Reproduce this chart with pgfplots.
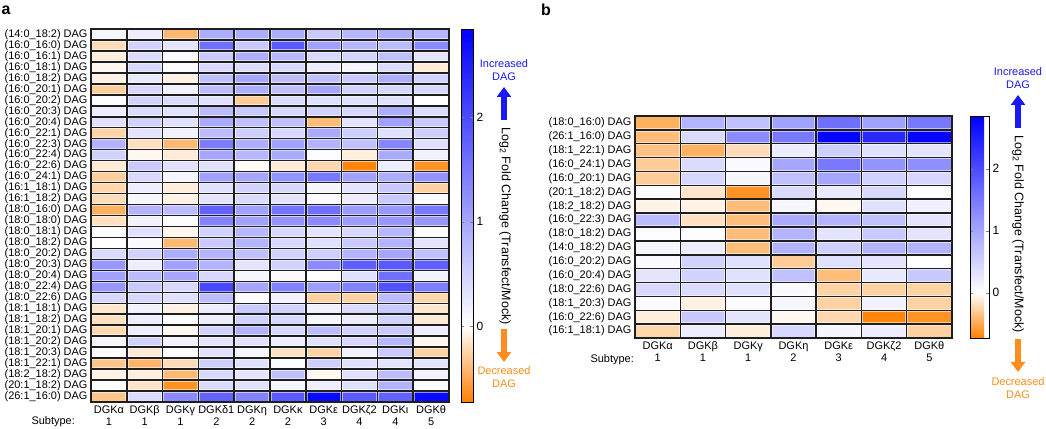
\documentclass[border=0pt]{standalone}
\usepackage{pgfplots}
\pgfplotsset{compat=1.18}
\usepackage{fontspec}
\setmainfont{Liberation Sans}
\usetikzlibrary{arrows.meta}
\definecolor{incblue}{RGB}{25,25,245}
\definecolor{decorange}{RGB}{255,140,30}
\definecolor{gridline}{RGB}{30,30,30}
\pgfplotsset{
  heat/.style={
    colormap={dag}{rgb255(0pt)=(255,128,0) rgb255(73pt)=(255,255,255) rgb255(358pt)=(0,0,255)},
    scale only axis, axis on top, y dir=reverse,
    point meta min=-0.73, point meta max=2.85,
    major tick length=0pt, minor tick length=0pt,
    axis line style={gridline, line width=1.5bp},
    tick label style={font=\fontsize{11}{12}\selectfont},
    xticklabel style={align=center},
    colorbar right,
  },
  cbar/.style={
    scale only axis, width=#1,
    at={(parent axis.north east)}, anchor=north west,
    ytick={0,1,2},
    yticklabel style={font=\fontsize{12}{12}\selectfont},
    /pgf/number format/assume math mode=true,
    major tick length=3bp,
    axis line style={black, line width=0.6bp},
  },
}
\begin{document}
\begin{tikzpicture}
\useasboundingbox (0,0) rectangle (1046bp,429bp);
% ---------------- panel a ----------------
\begin{axis}[heat, at={(91bp,400bp)}, anchor=north west, width=358bp, height=373bp,
  xmin=-0.5, xmax=9.5, ymin=-0.5, ymax=33.5,
  xtick={0,...,9},
  xticklabels={DGKα\\1, DGKβ\\1, DGKγ\\1, DGKδ1\\2, DGKη\\2, DGKκ\\2, DGKε\\3, DGKζ2\\4, DGKι\\4, DGKθ\\5},
  ytick={0,...,33},
  yticklabels={(14:0\_18:2) DAG,(16:0\_16:0) DAG,(16:0\_16:1) DAG,(16:0\_18:1) DAG,(16:0\_18:2) DAG,(16:0\_20:1) DAG,(16:0\_20:2) DAG,(16:0\_20:3) DAG,(16:0\_20:4) DAG,(16:0\_22:1) DAG,(16:0\_22:3) DAG,(16:0\_22:4) DAG,(16:0\_22:6) DAG,(16:0\_24:1) DAG,(16:1\_18:1) DAG,(16:1\_18:2) DAG,(18:0\_16:0) DAG,(18:0\_18:0) DAG,(18:0\_18:1) DAG,(18:0\_18:2) DAG,(18:0\_20:2) DAG,(18:0\_20:3) DAG,(18:0\_20:4) DAG,(18:0\_22:4) DAG,(18:0\_22:6) DAG,(18:1\_18:1) DAG,(18:1\_18:2) DAG,(18:1\_20:1) DAG,(18:1\_20:2) DAG,(18:1\_20:3) DAG,(18:1\_22:1) DAG,(18:2\_18:2) DAG,(20:1\_18:2) DAG,(26:1\_16:0) DAG},
  colorbar style={cbar=12bp, colorbar shift/.style={xshift=12bp}}]
\addplot[matrix plot*, mesh/cols=10, point meta=explicit] coordinates {
(0,0)[0.1] (1,0)[0.2] (2,0)[-0.4] (3,0)[0.9] (4,0)[0.9] (5,0)[0.9] (6,0)[0.6] (7,0)[0.8] (8,0)[0.9] (9,0)[0.8]
(0,1)[-0.2] (1,1)[0.5] (2,1)[0.3] (3,1)[1.6] (4,1)[0.6] (5,1)[1.85] (6,1)[1.05] (7,1)[0.8] (8,1)[0.75] (9,1)[1.3]
(0,2)[-0.1] (1,2)[0.4] (2,2)[0.05] (3,2)[0.6] (4,2)[0.9] (5,2)[0.8] (6,2)[0.45] (7,2)[0.5] (8,2)[0.7] (9,2)[0.3]
(0,3)[-0.05] (1,3)[0.45] (2,3)[0.03] (3,3)[0.45] (4,3)[0.4] (5,3)[0.45] (6,3)[0.2] (7,3)[0.1] (8,3)[0.4] (9,3)[-0.12]
(0,4)[-0.08] (1,4)[0.25] (2,4)[-0.08] (3,4)[0.7] (4,4)[1.0] (5,4)[0.75] (6,4)[0.7] (7,4)[0.6] (8,4)[0.9] (9,4)[0.5]
(0,5)[-0.28] (1,5)[0.45] (2,5)[0.15] (3,5)[0.75] (4,5)[0.9] (5,5)[0.7] (6,5)[1.0] (7,5)[0.5] (8,5)[0.45] (9,5)[0.45]
(0,6)[0.03] (1,6)[0.5] (2,6)[0.4] (3,6)[0.35] (4,6)[-0.3] (5,6)[0.4] (6,6)[0.35] (7,6)[0.35] (8,6)[0.35] (9,6)[0.0]
(0,7)[0.2] (1,7)[0.4] (2,7)[0.35] (3,7)[0.75] (4,7)[0.6] (5,7)[0.45] (6,7)[0.5] (7,7)[0.45] (8,7)[0.9] (9,7)[0.4]
(0,8)[0.35] (1,8)[0.5] (2,8)[0.35] (3,8)[0.95] (4,8)[0.7] (5,8)[0.7] (6,8)[-0.38] (7,8)[0.3] (8,8)[1.05] (9,8)[0.6]
(0,9)[-0.25] (1,9)[0.3] (2,9)[0.15] (3,9)[0.75] (4,9)[0.55] (5,9)[0.45] (6,9)[0.95] (7,9)[0.55] (8,9)[0.35] (9,9)[0.55]
(0,10)[0.85] (1,10)[-0.18] (2,10)[-0.4] (3,10)[1.45] (4,10)[0.9] (5,10)[1.05] (6,10)[0.85] (7,10)[0.7] (8,10)[1.35] (9,10)[0.35]
(0,11)[0.5] (1,11)[-0.05] (2,11)[-0.12] (3,11)[1.0] (4,11)[0.8] (5,11)[0.95] (6,11)[0.03] (7,11)[-0.1] (8,11)[0.95] (9,11)[0.15]
(0,12)[-0.12] (1,12)[0.6] (2,12)[0.35] (3,12)[0.35] (4,12)[-0.02] (5,12)[-0.12] (6,12)[-0.23] (7,12)[-0.7] (8,12)[0.2] (9,12)[-0.62]
(0,13)[-0.28] (1,13)[0.45] (2,13)[0.1] (3,13)[1.05] (4,13)[1.0] (5,13)[1.2] (6,13)[1.5] (7,13)[1.05] (8,13)[0.9] (9,13)[1.2]
(0,14)[-0.24] (1,14)[0.2] (2,14)[-0.1] (3,14)[0.35] (4,14)[0.5] (5,14)[0.45] (6,14)[0.1] (7,14)[0.3] (8,14)[0.6] (9,14)[-0.27]
(0,15)[-0.2] (1,15)[0.1] (2,15)[-0.08] (3,15)[0.3] (4,15)[0.4] (5,15)[0.3] (6,15)[0.05] (7,15)[0.2] (8,15)[0.6] (9,15)[0.05]
(0,16)[-0.45] (1,16)[0.85] (2,16)[0.75] (3,16)[1.75] (4,16)[1.05] (5,16)[1.55] (6,16)[1.6] (7,16)[1.1] (8,16)[1.15] (9,16)[1.5]
(0,17)[-0.18] (1,17)[0.15] (2,17)[0.03] (3,17)[1.4] (4,17)[1.05] (5,17)[1.2] (6,17)[1.3] (7,17)[1.1] (8,17)[1.15] (9,17)[1.15]
(0,18)[0.02] (1,18)[0.35] (2,18)[-0.05] (3,18)[0.5] (4,18)[0.8] (5,18)[0.45] (6,18)[0.3] (7,18)[0.45] (8,18)[0.8] (9,18)[0.03]
(0,19)[0.0] (1,19)[0.05] (2,19)[-0.4] (3,19)[0.6] (4,19)[0.85] (5,19)[0.45] (6,19)[0.35] (7,19)[0.6] (8,19)[0.85] (9,19)[0.3]
(0,20)[0.4] (1,20)[0.5] (2,20)[0.9] (3,20)[0.85] (4,20)[0.7] (5,20)[0.5] (6,20)[0.55] (7,20)[0.85] (8,20)[1.0] (9,20)[0.7]
(0,21)[1.15] (1,21)[0.2] (2,21)[1.05] (3,21)[0.85] (4,21)[0.3] (5,21)[0.5] (6,21)[1.3] (7,21)[1.8] (8,21)[1.85] (9,21)[1.8]
(0,22)[1.05] (1,22)[0.75] (2,22)[1.0] (3,22)[0.45] (4,22)[0.1] (5,22)[0.05] (6,22)[0.0] (7,22)[0.35] (8,22)[1.6] (9,22)[0.15]
(0,23)[1.15] (1,23)[0.6] (2,23)[0.45] (3,23)[2.05] (4,23)[1.0] (5,23)[1.4] (6,23)[1.1] (7,23)[1.4] (8,23)[1.95] (9,23)[1.45]
(0,24)[0.45] (1,24)[0.45] (2,24)[0.35] (3,24)[0.75] (4,24)[0.03] (5,24)[0.15] (6,24)[-0.26] (7,24)[-0.26] (8,24)[0.75] (9,24)[-0.23]
(0,25)[-0.14] (1,25)[0.15] (2,25)[-0.08] (3,25)[0.2] (4,25)[0.6] (5,25)[0.5] (6,25)[0.15] (7,25)[0.4] (8,25)[0.6] (9,25)[-0.14]
(0,26)[-0.18] (1,26)[0.2] (2,26)[0.0] (3,26)[0.2] (4,26)[0.5] (5,26)[0.45] (6,26)[0.1] (7,26)[0.2] (8,26)[0.5] (9,26)[-0.12]
(0,27)[-0.22] (1,27)[0.2] (2,27)[-0.04] (3,27)[0.5] (4,27)[0.85] (5,27)[0.45] (6,27)[0.75] (7,27)[0.5] (8,27)[0.6] (9,27)[0.2]
(0,28)[0.1] (1,28)[0.5] (2,28)[0.15] (3,28)[0.3] (4,28)[0.35] (5,28)[0.2] (6,28)[0.35] (7,28)[0.45] (8,28)[0.8] (9,28)[-0.05]
(0,29)[0.03] (1,29)[-0.12] (2,29)[0.02] (3,29)[0.35] (4,29)[0.1] (5,29)[-0.18] (6,29)[-0.26] (7,29)[0.15] (8,29)[0.6] (9,29)[-0.26]
(0,30)[-0.33] (1,30)[-0.43] (2,30)[-0.2] (3,30)[0.55] (4,30)[0.35] (5,30)[0.03] (6,30)[0.55] (7,30)[0.35] (8,30)[0.3] (9,30)[0.3]
(0,31)[-0.08] (1,31)[-0.1] (2,31)[-0.4] (3,31)[0.45] (4,31)[0.3] (5,31)[0.7] (6,31)[-0.04] (7,31)[0.35] (8,31)[0.75] (9,31)[0.15]
(0,32)[0.0] (1,32)[-0.16] (2,32)[-0.62] (3,32)[0.4] (4,32)[0.35] (5,32)[0.1] (6,32)[0.2] (7,32)[0.35] (8,32)[0.85] (9,32)[0.05]
(0,33)[-0.33] (1,33)[0.4] (2,33)[1.3] (3,33)[1.75] (4,33)[1.4] (5,33)[1.85] (6,33)[2.75] (7,33)[1.85] (8,33)[1.75] (9,33)[2.75]
};
\pgfplotsinvokeforeach{0.5,1.5,2.5,3.5,4.5,5.5,6.5,7.5,8.5}{
  \draw[white, opacity=0.55, line width=3.4bp] (axis cs:#1,-0.5) -- (axis cs:#1,33.5);}
\pgfplotsinvokeforeach{0.5,1.5,2.5,3.5,4.5,5.5,6.5,7.5,8.5,9.5,10.5,11.5,12.5,13.5,14.5,15.5,16.5,17.5,18.5,19.5,20.5,21.5,22.5,23.5,24.5,25.5,26.5,27.5,28.5,29.5,30.5,31.5,32.5}{
  \draw[white, opacity=0.55, line width=3.4bp] (axis cs:-0.5,#1) -- (axis cs:9.5,#1);}
\pgfplotsinvokeforeach{0.5,1.5,2.5,3.5,4.5,5.5,6.5,7.5,8.5}{
  \draw[gridline, line width=1.5bp] (axis cs:#1,-0.5) -- (axis cs:#1,33.5);}
\pgfplotsinvokeforeach{0.5,1.5,2.5,3.5,4.5,5.5,6.5,7.5,8.5,9.5,10.5,11.5,12.5,13.5,14.5,15.5,16.5,17.5,18.5,19.5,20.5,21.5,22.5,23.5,24.5,25.5,26.5,27.5,28.5,29.5,30.5,31.5,32.5}{
  \draw[gridline, line width=1.5bp] (axis cs:-0.5,#1) -- (axis cs:9.5,#1);}
\end{axis}
% ---------------- panel b ----------------
\begin{axis}[heat, at={(635bp,313bp)}, anchor=north west, width=317bp, height=222bp,
  xmin=-0.5, xmax=6.5, ymin=-0.5, ymax=15.5,
  xtick={0,...,6},
  xticklabels={DGKα\\1, DGKβ\\1, DGKγ\\1, DGKη\\2, DGKε\\3, DGKζ2\\4, DGKθ\\5},
  ytick={0,...,15},
  yticklabels={(18:0\_16:0) DAG,(26:1\_16:0) DAG,(18:1\_22:1) DAG,(16:0\_24:1) DAG,(16:0\_20:1) DAG,(20:1\_18:2) DAG,(18:2\_18:2) DAG,(16:0\_22:3) DAG,(18:0\_18:2) DAG,(14:0\_18:2) DAG,(16:0\_20:2) DAG,(16:0\_20:4) DAG,(18:0\_22:6) DAG,(18:1\_20:3) DAG,(16:0\_22:6) DAG,(16:1\_18:1) DAG},
  colorbar style={cbar=19bp, colorbar shift/.style={xshift=18bp}}]
\addplot[matrix plot*, mesh/cols=7, point meta=explicit] coordinates {
(0,0)[-0.45] (1,0)[0.85] (2,0)[0.7] (3,0)[1.05] (4,0)[1.6] (5,0)[1.05] (6,0)[1.5]
(0,1)[-0.38] (1,1)[0.4] (2,1)[1.3] (3,1)[1.5] (4,1)[2.8] (5,1)[2.4] (6,1)[2.8]
(0,2)[-0.35] (1,2)[-0.45] (2,2)[-0.2] (3,2)[0.2] (4,2)[0.55] (5,2)[0.35] (6,2)[0.3]
(0,3)[-0.3] (1,3)[0.4] (2,3)[0.05] (3,3)[1.0] (4,3)[1.5] (5,3)[1.2] (6,3)[1.25]
(0,4)[-0.3] (1,4)[0.45] (2,4)[0.1] (3,4)[0.7] (4,4)[1.0] (5,4)[0.5] (6,4)[0.45]
(0,5)[0.02] (1,5)[-0.15] (2,5)[-0.62] (3,5)[0.4] (4,5)[0.25] (5,5)[0.45] (6,5)[0.03]
(0,6)[-0.07] (1,6)[-0.08] (2,6)[-0.38] (3,6)[0.1] (4,6)[-0.04] (5,6)[0.35] (6,6)[0.17]
(0,7)[0.75] (1,7)[-0.18] (2,7)[-0.38] (3,7)[0.95] (4,7)[0.85] (5,7)[0.7] (6,7)[0.3]
(0,8)[0.03] (1,8)[0.03] (2,8)[-0.38] (3,8)[0.85] (4,8)[0.3] (5,8)[0.6] (6,8)[0.3]
(0,9)[0.1] (1,9)[0.2] (2,9)[-0.38] (3,9)[0.85] (4,9)[0.55] (5,9)[0.85] (6,9)[0.85]
(0,10)[0.05] (1,10)[0.5] (2,10)[0.35] (3,10)[-0.3] (4,10)[0.35] (5,10)[0.3] (6,10)[0.0]
(0,11)[0.3] (1,11)[0.5] (2,11)[0.35] (3,11)[0.7] (4,11)[-0.38] (5,11)[0.25] (6,11)[0.6]
(0,12)[0.45] (1,12)[0.4] (2,12)[0.35] (3,12)[0.05] (4,12)[-0.26] (5,12)[-0.26] (6,12)[-0.26]
(0,13)[0.05] (1,13)[-0.08] (2,13)[0.05] (3,13)[0.1] (4,13)[-0.26] (5,13)[0.15] (6,13)[-0.26]
(0,14)[-0.1] (1,14)[0.6] (2,14)[0.3] (3,14)[-0.04] (4,14)[-0.23] (5,14)[-0.7] (6,14)[-0.62]
(0,15)[-0.24] (1,15)[0.2] (2,15)[-0.1] (3,15)[0.45] (4,15)[0.1] (5,15)[0.2] (6,15)[-0.27]
};
\pgfplotsinvokeforeach{0.5,1.5,2.5,3.5,4.5,5.5}{
  \draw[white, opacity=0.55, line width=3.4bp] (axis cs:#1,-0.5) -- (axis cs:#1,15.5);}
\pgfplotsinvokeforeach{0.5,1.5,2.5,3.5,4.5,5.5,6.5,7.5,8.5,9.5,10.5,11.5,12.5,13.5,14.5}{
  \draw[white, opacity=0.55, line width=3.4bp] (axis cs:-0.5,#1) -- (axis cs:6.5,#1);}
\pgfplotsinvokeforeach{0.5,1.5,2.5,3.5,4.5,5.5}{
  \draw[gridline, line width=1.5bp] (axis cs:#1,-0.5) -- (axis cs:#1,15.5);}
\pgfplotsinvokeforeach{0.5,1.5,2.5,3.5,4.5,5.5,6.5,7.5,8.5,9.5,10.5,11.5,12.5,13.5,14.5}{
  \draw[gridline, line width=1.5bp] (axis cs:-0.5,#1) -- (axis cs:6.5,#1);}
\end{axis}
% ---------------- annotations ----------------
\node[font=\bfseries\fontsize{16}{16}\selectfont] at (6bp,419bp) {a};
\node[font=\bfseries\fontsize{16}{16}\selectfont] at (546bp,419bp) {b};
\node[anchor=east, inner sep=0pt, font=\fontsize{11}{12}\selectfont] at (75bp,7bp) {Subtype:};
\node[anchor=east, inner sep=0pt, font=\fontsize{11}{12}\selectfont] at (634bp,69bp) {Subtype:};
% panel a colorbar annotations
\node[text=incblue, align=center, font=\fontsize{11}{13}\selectfont] at (504bp,359bp) {Increased\\DAG};
\draw[incblue, line width=6bp, -{Triangle[width=14bp,length=10bp]}] (504bp,309bp) -- (504bp,342bp);
\node[rotate=-90, font=\fontsize{12.5}{13}\selectfont] at (505bp,203bp) {Log\textsubscript{2} Fold Change (Transfect/Mock)};
\draw[decorange, line width=6bp, -{Triangle[width=14bp,length=10bp]}] (504bp,100bp) -- (504bp,67bp);
\node[text=decorange, align=center, font=\fontsize{11}{13}\selectfont] at (504bp,52bp) {Decreased\\DAG};
% panel b colorbar annotations
\node[text=incblue, align=center, font=\fontsize{11}{13}\selectfont] at (1018bp,351bp) {Increased\\DAG};
\draw[incblue, line width=6bp, -{Triangle[width=14bp,length=10bp]}] (1018bp,301bp) -- (1018bp,334bp);
\node[rotate=-90, font=\fontsize{12.5}{13}\selectfont] at (1018bp,195bp) {Log\textsubscript{2} Fold Change (Transfect/Mock)};
\draw[decorange, line width=6bp, -{Triangle[width=14bp,length=10bp]}] (1018bp,90bp) -- (1018bp,57bp);
\node[text=decorange, align=center, font=\fontsize{11}{13}\selectfont] at (1018bp,41bp) {Decreased\\DAG};
\end{tikzpicture}
\end{document}
